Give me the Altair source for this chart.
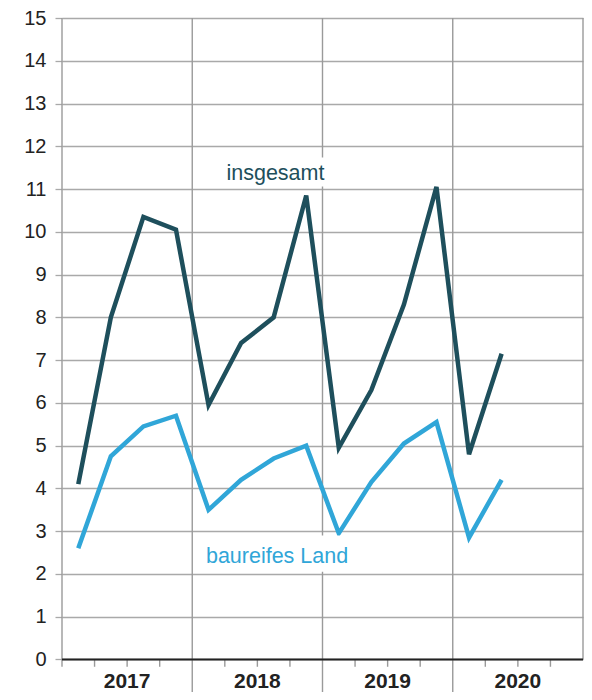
import altair as alt
import pandas as pd

years = ["2017", "2018", "2019", "2020"]
year_pos = [2, 6, 10, 14]
insgesamt = [4.1, 8.0, 10.35, 10.05, 5.95, 7.4, 8.0, 10.85, 4.95, 6.3, 8.3, 11.05, 4.8, 7.15]
baureif = [2.6, 4.75, 5.45, 5.7, 3.5, 4.2, 4.7, 5.0, 2.95, 4.15, 5.05, 5.55, 2.85, 4.2]
series_names = ["insgesamt", "baureifes Land"]
series_colors = ["#1e4f5c", "#30a6d8"]
y_ticks = list(range(0, 16))

FONT = "Liberation Sans"
YMIN = -0.76

rows = []
for i, v in enumerate(insgesamt):
    rows.append({"x": i + 0.5, "y": v, "s": "insgesamt"})
for i, v in enumerate(baureif):
    rows.append({"x": i + 0.5, "y": v, "s": "baureifes Land"})
lines_df = pd.DataFrame(rows)

xscale = alt.Scale(domain=[0, 16], nice=False, zero=False)
yscale = alt.Scale(domain=[YMIN, 15], nice=False, zero=False)
yaxis = alt.Axis(values=y_ticks, grid=True, gridColor="#a9a9a9", gridWidth=1.3,
                 domain=False, tickSize=7, tickColor="#a9a9a9", tickWidth=1.3,
                 labelFontSize=20, labelFont=FONT, labelColor="#222222",
                 labelPadding=9, title=None)

def X(f="x"):
    return alt.X(f"{f}:Q", scale=xscale, axis=None)

def Y(f="y"):
    return alt.Y(f"{f}:Q", scale=yscale, axis=yaxis)

# vertical year boundary lines
vrules = pd.DataFrame({
    "x": [0, 4, 8, 12, 16],
    "y": [-0.17, YMIN, YMIN, YMIN, 0],
    "y2": [15, 15, 15, 15, 15],
})
vr = alt.Chart(vrules).mark_rule(color="#9a9a9a", strokeWidth=1.4).encode(
    x=X(), y=Y(), y2="y2:Q")

# quarter ticks below the zero line
qt = pd.DataFrame({"x": [1, 2, 3, 5, 6, 7, 9, 10, 11, 13, 14, 15],
                   "y": [-0.17] * 12, "y2": [0] * 12})
qr = alt.Chart(qt).mark_rule(color="#9a9a9a", strokeWidth=1.4).encode(
    x=X(), y=Y(), y2="y2:Q")

zero = alt.Chart(pd.DataFrame({"x": [0], "x2": [16], "y": [0]})).mark_rule(
    color="#222222", strokeWidth=2.2).encode(x=X(), x2="x2:Q", y=Y())

lines = alt.Chart(lines_df).mark_line(strokeWidth=4.5, strokeJoin="miter").encode(
    x=X(), y=Y(),
    color=alt.Color("s:N", scale=alt.Scale(domain=series_names, range=series_colors), legend=None),
    detail="s:N")

# white masks behind the series labels
masks = pd.DataFrame({"x": [5.0, 4.35], "x2": [8.15, 8.7],
                      "y": [11.06, 2.05], "y2": [11.74, 2.9]})
mk = alt.Chart(masks).mark_rect(color="white").encode(
    x=X(), x2="x2:Q", y=Y(), y2="y2:Q")

labels = pd.DataFrame({"x": [5.05, 4.42], "y": [11.22, 2.26], "t": series_names})
lab = alt.Chart(labels).mark_text(align="left", baseline="alphabetic", fontSize=21.5,
                                   font=FONT).encode(
    x=X(), y=Y(), text="t:N",
    color=alt.Color("t:N", scale=alt.Scale(domain=series_names, range=series_colors), legend=None))

ylab = pd.DataFrame({"x": year_pos, "y": [-0.67] * 4, "t": years})
yl = alt.Chart(ylab).mark_text(align="center", baseline="alphabetic", fontSize=21,
                                fontWeight="bold", font=FONT, color="#222222").encode(
    x=X(), y=Y(), text="t:N")

chart = alt.layer(vr, qr, zero, lines, mk, lab, yl).properties(
    width=521, height=674,
    autosize=alt.AutoSizeParams(type="none"),
    padding={"left": 54, "top": 10, "right": 1, "bottom": 0},
).configure_view(stroke=None)

chart.save("out.html", embed_options={"renderer": "svg", "actions": False})
